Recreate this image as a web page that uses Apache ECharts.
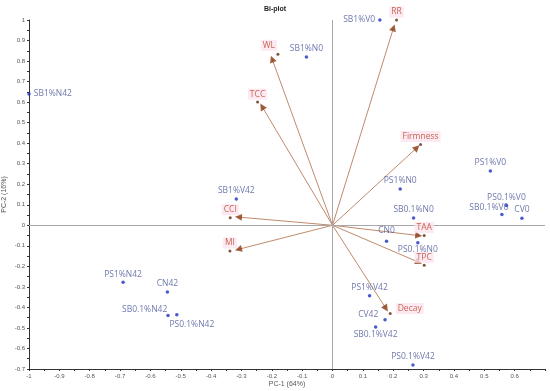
<!DOCTYPE html>
<html><head><meta charset="utf-8">
<script src="https://cdn.jsdelivr.net/npm/echarts@6/dist/echarts.min.js"></script>
<style>html,body{margin:0;padding:0;background:#fff}#c{width:550px;height:391px}</style>
</head><body><div id="c"></div>
<script>
// Observations (scores)
const obsNames = ['SB1%N42','SB1%N0','SB1%V0','SB1%V42','PS1%N0','PS1%V0','PS0.1%V0','SB0.1%V0','CV0','SB0.1%N0','CN0','PS0.1%N0','PS1%V42','CV42','SB0.1%V42','PS0.1%V42','PS1%N42','CN42','SB0.1%N42','PS0.1%N42'];
const obsX = [-1.0,-0.086,0.156,-0.317,0.223,0.52,0.573,0.558,0.624,0.267,0.178,0.281,0.122,0.173,0.142,0.265,-0.69,-0.544,-0.542,-0.513];
const obsY = [0.64,0.82,1.0,0.128,0.177,0.265,0.096,0.052,0.034,0.036,-0.078,-0.085,-0.343,-0.46,-0.496,-0.68,-0.278,-0.325,-0.44,-0.436];
// Variables (loadings)
const varNames = ['RR','WL','TCC','Firmness','CCI','MI','TAA','TPC','Decay'];
const varX = [0.211,-0.18,-0.247,0.29,-0.337,-0.338,0.302,0.302,0.19];
const varY = [1.0,0.833,0.6,0.394,0.037,-0.125,-0.05,-0.195,-0.43];
// Arrow tips
const tipX = [0.201,-0.199,-0.232,0.278,-0.31,-0.31,0.284,0.284,0.176];
const tipY = [0.962,0.81,0.578,0.378,0.04,-0.117,-0.05,-0.18,-0.405];
// tick settings
const xMin = -1, xMax = 0.7, yMin = -0.7, yMax = 1, step = 0.1;

const obsLabelPos = {
  'SB1%N42': {position:'right', distance:3},
  'SB1%V0': {position:'left', distance:3},
  'SB0.1%V0': {position:'top', offset:[-13,4]},
  'CV0': {position:'top', offset:[0,3]},
  'PS0.1%N0': {position:'bottom', distance:1},
  'CV42': {position:'left', offset:[0,-5]},
  'SB0.1%V42': {position:'bottom', distance:1},
  'SB0.1%N42': {position:'left', offset:[6,-6]},
  'PS0.1%N42': {position:'bottom', offset:[15,-1]},
  'CN0': {position:'top', offset:[0,1]}
};
const varLabelPos = {
  'WL': {position:'top', offset:[-9,3]},
  'Decay': {position:'right', offset:[-1,-5]},
  'RR': {position:'top', offset:[0,4]}
};
const FONT = '"Open Sans", "Noto Sans", sans-serif';

const obsData = obsNames.map((n,i)=>{
  const p = obsLabelPos[n] || {position:'top', distance:2};
  return {value:[obsX[i],obsY[i]], name:n, label:Object.assign({show:true, formatter:n}, p)};
});
const varData = varNames.map((n,i)=>{
  const p = varLabelPos[n] || {position:'top', distance:1};
  return {value:[varX[i],varY[i]], name:n, label:Object.assign({show:true, formatter:n}, p)};
});
const arrowLines = varNames.map((n,i)=>({coords:[[0,0],[tipX[i],tipY[i]]]}));
const heads = varNames.map((n,i)=>{
  const ang = Math.atan2(tipY[i]*205, tipX[i]*303) * 180/Math.PI;
  return {value:[tipX[i],tipY[i]], symbolRotate: ang-90};
});

const chart = echarts.init(document.getElementById('c'));
chart.setOption({
  animation:false,
  title:{text:'Bi-plot', left:'center', top:1, textStyle:{fontSize:7, fontWeight:'bold', color:'#222', fontFamily:'"Liberation Sans", Arial, sans-serif'}},
  grid:{left:29, right:5, top:20, bottom:22, containLabel:false, outerBoundsMode:'none'},
  xAxis:{type:'value', min:xMin, max:xMax, interval:step,
    name:'PC-1 (64%)', nameLocation:'middle', nameGap:12, nameMoveOverlap:false,
    nameTextStyle:{fontSize:7, color:'#555', fontFamily:'"Liberation Sans", Arial, sans-serif'},
    axisLine:{onZero:false, lineStyle:{color:'#333', width:1}},
    axisTick:{show:true, length:2, lineStyle:{color:'#333'}},
    minorTick:{show:true, splitNumber:2, length:2, lineStyle:{color:'#333'}},
    axisLabel:{fontSize:6, color:'#555', margin:4, fontFamily:'"Liberation Sans", Arial, sans-serif',
      formatter:v=> Math.abs(v-0.7)<1e-6 ? '' : String(Math.round(v*10)/10)},
    splitLine:{show:false}},
  yAxis:{type:'value', min:yMin, max:yMax, interval:step,
    name:'PC-2 (16%)', nameLocation:'middle', nameGap:21, nameRotate:90, nameMoveOverlap:false,
    nameTextStyle:{fontSize:7, color:'#555', fontFamily:'"Liberation Sans", Arial, sans-serif'},
    axisLine:{onZero:false, lineStyle:{color:'#333', width:1}},
    axisTick:{show:true, length:2, lineStyle:{color:'#333'}},
    minorTick:{show:true, splitNumber:2, length:2, lineStyle:{color:'#333'}},
    axisLabel:{fontSize:6, color:'#555', margin:4, fontFamily:'"Liberation Sans", Arial, sans-serif',
      formatter:v=> String(Math.round(v*10)/10)},
    splitLine:{show:false}},
  series:[
    {type:'scatter', data:[], silent:true,
      markLine:{silent:true, symbol:['none','none'], label:{show:false},
        lineStyle:{color:'#a8a8a8', width:1, type:'solid'},
        data:[{xAxis:0},{yAxis:0}]}},
    {type:'lines', coordinateSystem:'cartesian2d', silent:true, z:3,
      lineStyle:{color:'#c08a6c', width:1, opacity:1},
      symbol:['none','none'], data:arrowLines},
    {type:'scatter', data:heads, symbol:'triangle', symbolSize:[7,7], silent:true, z:4,
      itemStyle:{color:'#8a3b12'}},
    {type:'scatter', data:varData, symbolSize:3, z:5,
      itemStyle:{color:'#5a2a10'},
      label:{fontSize:8.5, color:'#b5452a', fontFamily:FONT, backgroundColor:'#fde4ee', padding:[1,2,1,2]}},
    {type:'scatter', data:obsData, symbolSize:3.5, z:5,
      itemStyle:{color:'#1c2fc4'},
      label:{fontSize:8.5, color:'#4a5699', fontFamily:FONT}}
  ]
});
</script></body></html>
